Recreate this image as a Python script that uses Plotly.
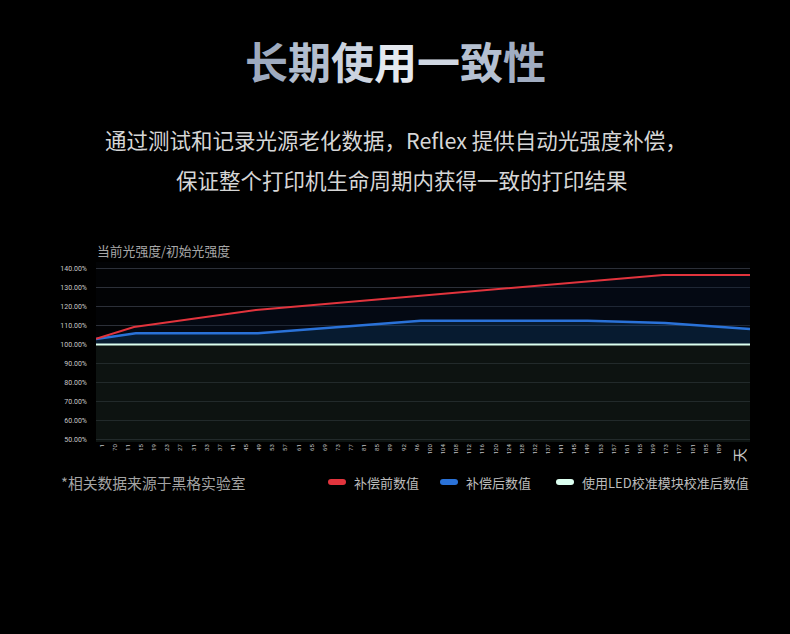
import plotly.graph_objects as go

### Data ------------------------------------------------------

# x tick labels (days), as printed under the axis
day_labels = ["1", "70", "11", "15", "19", "23", "27", "31", "33", "37", "41", "45",
              "49", "53", "57", "61", "65", "69", "73", "77", "81", "85", "89", "92",
              "96", "100", "104", "108", "112", "116", "120", "124", "128", "132",
              "137", "141", "145", "149", "153", "157", "161", "165", "169", "173",
              "177", "181", "185", "189"]
unit_label = "天"

# series breakpoints, x in tick-index units
before_x = [-0.43, 2.46, 11.75, 42.75, 49.37]
before_y = [103.0, 109.2, 118.2, 136.7, 136.7]

after_x = [-0.43, 2.6, 11.9, 24.3, 37.0, 42.9, 49.37]
after_y = [102.9, 105.9, 105.9, 112.5, 112.5, 111.3, 108.1]

led_x = [-0.43, 49.37]
led_y = [100.0, 100.0]

y_ticks = [50, 60, 70, 80, 90, 100, 110, 120, 130, 140]

series_names = ["补偿前数值", "补偿后数值", "使用LED校准模块校准后数值"]
series_colors = ["#e2343d", "#2a72d8", "#dcfff0"]

### Helpers (pixel -> paper) ---------------------------------
W, H = 790, 634
L, R, T, B = 96, 40, 262, 192
pw, ph = W - L - R, H - T - B

def px(x):
    return (x - L) / pw

def py(y):
    return (H - B - y) / ph

CJK = "Noto Sans CJK SC"

### Figure ----------------------------------------------------
fig = go.Figure()

# below 100% band
fig.add_trace(go.Scatter(x=led_x, y=led_y, mode="lines", line=dict(width=0),
                         fill="tozeroy", fillcolor="rgba(24,36,30,0.5)",
                         hoverinfo="skip", showlegend=False))
# compensated
fig.add_trace(go.Scatter(x=after_x, y=after_y, mode="lines", name=series_names[1],
                         line=dict(color=series_colors[1], width=2.5),
                         fill="tonexty", fillcolor="rgba(14,62,110,0.42)",
                         showlegend=False))
# before compensation
fig.add_trace(go.Scatter(x=before_x, y=before_y, mode="lines", name=series_names[0],
                         line=dict(color=series_colors[0], width=2),
                         fill="tonexty", fillcolor="rgba(8,22,45,0.35)",
                         showlegend=False))
# LED calibrated
fig.add_trace(go.Scatter(x=led_x, y=led_y, mode="lines", name=series_names[2],
                         line=dict(color=series_colors[2], width=2),
                         showlegend=False))

fig.update_xaxes(range=[-0.43, 49.37], tickvals=list(range(len(day_labels))),
                 ticktext=day_labels, tickangle=-90, showgrid=False, zeroline=False,
                 ticks="", tickfont=dict(size=6, color="#c0c0c0", family="Roboto"),
                 showline=False)
fig.update_yaxes(range=[48.5, 143.5], tickvals=y_ticks,
                 ticktext=["%.2f%%" % v for v in y_ticks],
                 showgrid=True, gridcolor="#2c3039", gridwidth=1, zeroline=False,
                 ticks="", ticklabelstandoff=8,
                 tickfont=dict(size=7, color="#c8c8c8", family="Roboto"))

# title with a soft left-to-right shading
title_chars = "长期使用一致性"
title_cols = ["#9eaabe", "#b2bdce", "#cbd3df", "#e4e8ef", "#d0d7e2", "#b5c0d1", "#a1adc2"]
title_txt = "".join('<span style="color:%s">%s</span>' % (c, ch)
                    for ch, c in zip(title_chars, title_cols))

annos = [
    dict(text="<b>" + title_txt + "</b>", x=395, y=60, size=43, color=None),
    dict(text="通过测试和记录光源老化数据，Reflex 提供自动光强度补偿，", x=396, y=139,
         size=21.5, color="#d6d6d6"),
    dict(text="保证整个打印机生命周期内获得一致的打印结果", x=402, y=179,
         size=21.5, color="#d6d6d6"),
]
for a in annos:
    f = dict(size=a.pop("size"), family=CJK)
    c = a.pop("color")
    if c:
        f["color"] = c
    a.update(x=px(a["x"]), y=py(a["y"]), xref="paper", yref="paper", font=f,
             showarrow=False, xanchor="center", yanchor="middle")

annos += [
    dict(text="当前光强度/初始光强度", x=px(95), y=py(250), xref="paper", yref="paper",
         xanchor="left", yanchor="middle", showarrow=False,
         font=dict(size=12.8, family=CJK, color="#a8a8a8")),
    dict(text=unit_label, x=48.55, xref="x", y=py(455), yref="paper", textangle=-90,
         xanchor="center", yanchor="middle", showarrow=False,
         font=dict(size=14, family=CJK, color="#c8c8c8")),
    dict(text="*相关数据来源于黑格实验室", x=px(59), y=py(482), xref="paper", yref="paper",
         xanchor="left", yanchor="middle", showarrow=False,
         font=dict(size=14.8, family=CJK, color="#a4a4a4")),
]

# custom legend: pill + text
legend_pos = [328, 440, 556]
shapes = []
for name, col, x0 in zip(series_names, series_colors, legend_pos):
    x1 = x0 + 18
    y0, y1 = 479, 485
    r = 3
    path = ("M %f,%f L %f,%f Q %f,%f %f,%f L %f,%f Q %f,%f %f,%f L %f,%f "
            "Q %f,%f %f,%f L %f,%f Q %f,%f %f,%f Z") % (
        px(x0 + r), py(y0), px(x1 - r), py(y0), px(x1), py(y0), px(x1), py(y0 + r),
        px(x1), py(y1 - r), px(x1), py(y1), px(x1 - r), py(y1),
        px(x0 + r), py(y1), px(x0), py(y1), px(x0), py(y1 - r),
        px(x0), py(y0 + r), px(x0), py(y0), px(x0 + r), py(y0))
    shapes.append(dict(type="path", path=path, xref="paper", yref="paper",
                       fillcolor=col, line=dict(width=0)))
    annos.append(dict(text=name, x=px(x1 + 6), y=py(482), xref="paper", yref="paper",
                      xanchor="left", yanchor="middle", showarrow=False,
                      font=dict(size=13, family=CJK, color="#bcbcbc")))

fig.update_layout(width=W, height=H, margin=dict(l=L, r=R, t=T, b=B),
                  paper_bgcolor="#000000", plot_bgcolor="#020305",
                  annotations=annos, shapes=shapes, showlegend=False,
                  font=dict(family=CJK, color="#cccccc"))

fig.write_html("out.html", config={"displayModeBar": False},
               post_script="document.body.style.margin='0';document.body.style.background='#000';")
